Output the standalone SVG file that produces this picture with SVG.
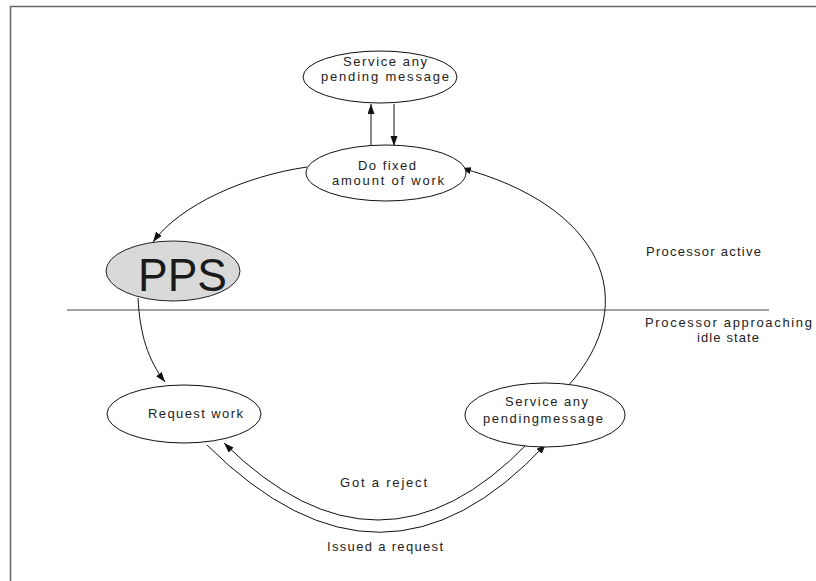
<svg xmlns="http://www.w3.org/2000/svg" width="816" height="581" viewBox="0 0 816 581">
<defs>
<marker id="ah" markerUnits="userSpaceOnUse" markerWidth="11" markerHeight="8" refX="10" refY="3.5" orient="auto">
<path d="M0,0 L10,3.5 L0,7 z" fill="#111"/>
</marker>
<style>
.n{fill:#fff;stroke:#111;stroke-width:1}
.t{font-family:"Liberation Sans",Arial,sans-serif;font-size:13px;fill:#222}
.c{fill:none;stroke:#111;stroke-width:1;marker-end:url(#ah)}
</style>
</defs>
<rect width="816" height="581" fill="#fff"/>
<g id="frame" fill="none" stroke="#666" stroke-width="1.5">
<path d="M10.5,581 L10.5,6.5 L816,6.5"/>
</g>
<line x1="67" y1="310" x2="769" y2="310" stroke="#444" stroke-width="1"/>
<g id="connectors">
<path class="c" d="M371,145 L371,104"/>
<path class="c" d="M394,104 L394,146"/>
<path class="c" d="M307,167 C245,176 180,205 153,242"/>
<path class="c" d="M138,298 C140,335 148,360 165,382"/>
<path class="c" d="M568,386 C645,300 600,205 461,168"/>
<path class="c" d="M207,445 Q383,620 546,444"/>
<path class="c" d="M528,443 Q380,597 224,443"/>
</g>
<g id="service-top">
<ellipse class="n" cx="380" cy="77" rx="77" ry="26"/>
<text class="t" x="343" y="66" textLength="84" lengthAdjust="spacing">Service any</text>
<text class="t" x="321" y="81" textLength="128" lengthAdjust="spacing">pending message</text>
</g>
<g id="do-fixed">
<ellipse class="n" cx="386" cy="173" rx="80" ry="28"/>
<text class="t" x="358" y="170" textLength="58" lengthAdjust="spacing">Do fixed</text>
<text class="t" x="332" y="185" textLength="112" lengthAdjust="spacing">amount of work</text>
</g>
<g id="pps">
<ellipse cx="173" cy="271" rx="67" ry="30" fill="#d9d9d9" stroke="#222" stroke-width="1"/>
<text x="138" y="291" font-family="Liberation Sans,Arial,sans-serif" font-size="46" fill="#1a1a1a" textLength="89" lengthAdjust="spacingAndGlyphs">PPS</text>
</g>
<g id="request-work">
<ellipse class="n" cx="184" cy="414" rx="77" ry="29"/>
<text class="t" x="148" y="418" textLength="95" lengthAdjust="spacing">Request work</text>
</g>
<g id="service-bottom">
<ellipse class="n" cx="545" cy="415" rx="80" ry="32"/>
<text class="t" x="505" y="406" textLength="83" lengthAdjust="spacing">Service any</text>
<text class="t" x="483" y="423" textLength="120" lengthAdjust="spacing">pendingmessage</text>
</g>
<g id="labels">
<text class="t" x="340" y="487" textLength="87" lengthAdjust="spacing">Got a reject</text>
<text class="t" x="327" y="551" textLength="116" lengthAdjust="spacing">Issued a request</text>
<text class="t" x="646" y="256" textLength="115" lengthAdjust="spacing">Processor active</text>
<text class="t" x="645" y="327" textLength="167" lengthAdjust="spacing">Processor approaching</text>
<text class="t" x="697" y="342" textLength="62" lengthAdjust="spacing">idle state</text>
</g>
</svg>
